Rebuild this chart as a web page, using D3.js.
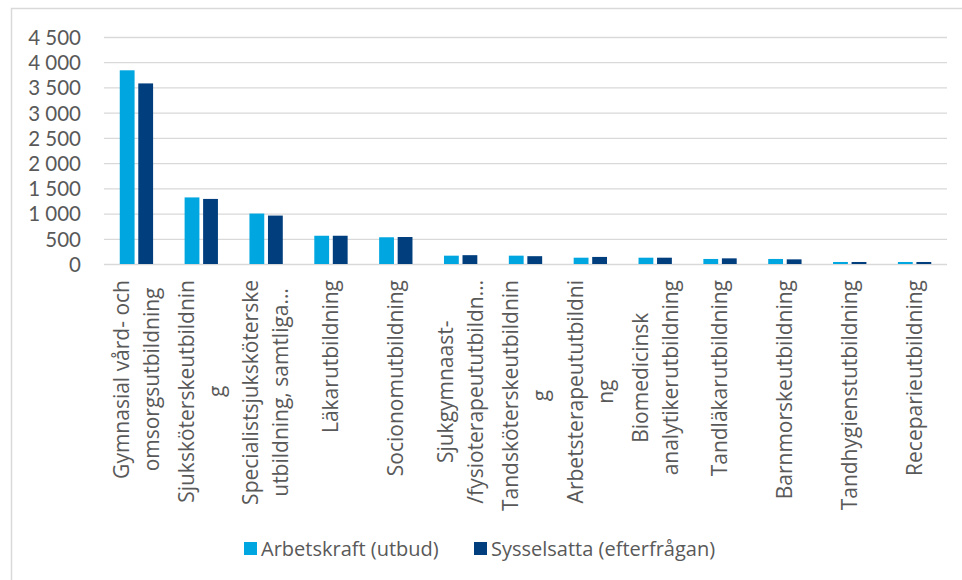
<!DOCTYPE html>
<html>
<head>
<meta charset="utf-8">
<script src="https://cdn.jsdelivr.net/npm/d3@7"></script>
<style>
  html, body { margin: 0; padding: 0; background: #fff; }
  svg { display: block; }
  text { font-family: "Open Sans", sans-serif; fill: #595959; }
</style>
</head>
<body>
<svg id="chart" width="962" height="580"></svg>
<script>
// Utbildningar (each entry holds the lines of the wrapped axis label)
const categories = [
  ["Gymnasial vård- och", "omsorgsutbildning"],
  ["Sjuksköterskeutbildnin", "g"],
  ["Specialistsjuksköterske", "utbildning, samtliga…"],
  ["Läkarutbildning"],
  ["Socionomutbildning"],
  ["Sjukgymnaast-", "/fysioterapeututbildn…"],
  ["Tandsköterskeutbildnin", "g"],
  ["Arbetsterapeututbildni", "ng"],
  ["Biomedicinsk", "analytikerutbildning"],
  ["Tandläkarutbildning"],
  ["Barnmorskeutbildning"],
  ["Tandhygienstutbildning"],
  ["Receparieutbildning"]
];
const seriesNames = ["Arbetskraft (utbud)", "Sysselsatta (efterfrågan)"];
const supply = [3840, 1320, 1000, 560, 530, 165, 165, 125, 125, 100, 100, 40, 40];
const demand = [3580, 1290, 960, 560, 535, 175, 155, 140, 125, 112, 92, 40, 40];
const yTicks = [0, 500, 1000, 1500, 2000, 2500, 3000, 3500, 4000, 4500];
const colors = ["#00a6e0", "#003e7e"];

const svg = d3.select("#chart");
const fontSize = 21;
const grid = "#d9d9d9";

// Chart frame
svg.append("rect")
  .attr("x", 11.5).attr("y", 8.5)
  .attr("width", 1000).attr("height", 700)
  .attr("fill", "#fff").attr("stroke", grid).attr("stroke-width", 1.5);

const plot = { left: 104, right: 947, top: 37, bottom: 264 };
const keys = categories.map((d, i) => i);

const x0 = d3.scaleBand()
  .domain(keys)
  .range([plot.left, plot.right])
  .paddingInner(0.486)
  .paddingOuter(0.243);

const x1 = d3.scaleBand()
  .domain([0, 1])
  .range([0, x0.bandwidth()])
  .paddingInner(0.2);

const y = d3.scaleLinear()
  .domain([0, 4500])
  .range([plot.bottom, plot.top]);

// Gridlines and value labels
const fmt = v => d3.format(",")(v).replace(/,/g, " ");
const yAxis = d3.axisLeft(y)
  .tickValues(yTicks)
  .tickSize(-(plot.right - plot.left))
  .tickPadding(23)
  .tickFormat(fmt);

const gy = svg.append("g")
  .attr("transform", `translate(${plot.left},0)`)
  .call(yAxis);
gy.select(".domain").remove();
gy.selectAll(".tick line").attr("stroke", grid).attr("stroke-width", 1.3);
gy.selectAll(".tick text")
  .style("font-family", 'Lato, "Open Sans", sans-serif')
  .style("font-size", "20.5px")
  .attr("fill", "#595959")
  .attr("dy", "0.36em");

// Bars
const rows = keys.map(i => [supply[i], demand[i]]);
const groups = svg.append("g").selectAll("g")
  .data(rows)
  .join("g")
  .attr("transform", (d, i) => `translate(${x0(i)},0)`);

groups.selectAll("rect")
  .data(d => d.map((v, s) => ({ v, s })))
  .join("rect")
  .attr("x", d => x1(d.s))
  .attr("width", x1.bandwidth())
  .attr("y", d => y(d.v))
  .attr("height", d => y(0) - y(d.v))
  .attr("fill", d => colors[d.s]);

// Category labels, rotated and wrapped
const lineGap = 30;
const labelTop = 280;
const lbl = svg.append("g");
categories.forEach((lines, i) => {
  const cx = x0(i) + x0.bandwidth() / 2;
  const t = lbl.append("text")
    .style("font-size", fontSize + "px")
    .attr("text-anchor", "middle");
  const n = lines.length;
  lines.forEach((line, k) => {
    t.append("tspan")
      .attr("x", 0)
      .attr("y", (k - (n - 1) / 2) * lineGap)
      .attr("dy", "0.35em")
      .text(line);
  });
  let maxLen = 0;
  t.selectAll("tspan").each(function () {
    maxLen = Math.max(maxLen, this.getComputedTextLength());
  });
  const cy = labelTop + maxLen / 2;
  t.attr("transform", `translate(${cx},${cy}) rotate(-90)`);
});

// Legend
const legend = svg.append("g");
const legendX = [244, 474];
seriesNames.forEach((name, s) => {
  legend.append("rect")
    .attr("x", legendX[s]).attr("y", 542)
    .attr("width", 13).attr("height", 13)
    .attr("fill", colors[s]);
  legend.append("text")
    .attr("x", legendX[s] + 17).attr("y", 555.5)
    .style("font-size", "20px")
    .text(name);
});
</script>
</body>
</html>
